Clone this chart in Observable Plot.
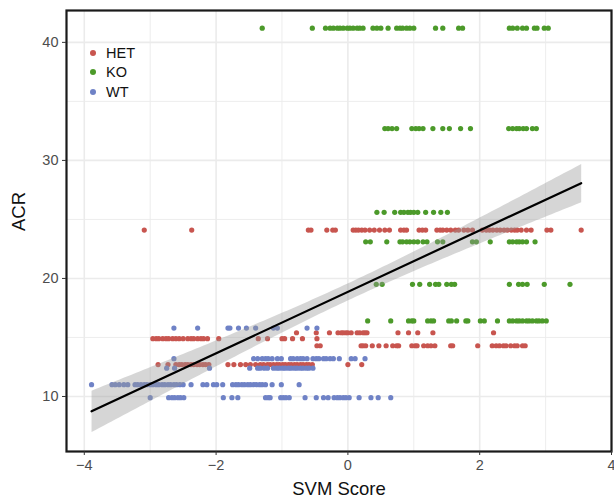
<!DOCTYPE html>
<html>
<head>
<meta charset="utf-8">
<script src="https://cdn.jsdelivr.net/npm/d3@7"></script>
<script src="https://cdn.jsdelivr.net/npm/@observablehq/plot@0.6"></script>
<style>
  html, body { margin: 0; padding: 0; background: white; }
  #wrap { position: relative; width: 614px; height: 498px; font-family: "Liberation Sans", Arial, Helvetica, sans-serif; }
  #legend { position: absolute; left: 89px; top: 43px; }
  .item { display: flex; align-items: center; height: 19.5px; font-size: 14.5px; color: #111; }
  .sw { width: 6px; height: 6px; border-radius: 50%; margin-right: 10px; margin-left: 1px; }
</style>
</head>
<body>
<div id="wrap"><div id="legend"></div></div>
<script>
// ---- categories & colours ----
const groups = ["HET", "KO", "WT"];
const groupColors = ["#C8554F", "#4C9A2A", "#6F82C6"];

// ---- KO: ACR levels and SVM scores ----
const koLevels = [41.2, 32.7, 25.6, 23.1, 19.5, 16.4];
const koScores = [
  [-1.30, -0.54, -0.34, -0.27, -0.22, -0.16, -0.12, -0.07, -0.01, 0.03, 0.08, 0.14, 0.18, 0.23, 0.38, 0.44, 0.50, 0.61, 0.74, 0.79, 0.83, 0.89, 0.94, 1.00, 1.33, 1.44, 1.68, 1.74, 2.45, 2.50, 2.57, 2.65, 2.71, 2.83, 2.87, 2.98, 3.04],
  [0.56, 0.61, 0.67, 0.74, 0.97, 1.03, 1.08, 1.14, 1.29, 1.44, 1.54, 1.71, 1.86, 2.44, 2.50, 2.56, 2.60, 2.66, 2.71, 2.80, 2.86],
  [0.44, 0.55, 0.71, 0.80, 0.85, 0.91, 0.95, 1.00, 1.06, 1.18, 1.30, 1.41, 1.51],
  [0.27, 0.34, 0.59, 0.79, 0.83, 0.89, 0.94, 1.00, 1.06, 1.14, 1.20, 1.36, 1.44, 1.89, 1.95, 2.16, 2.45, 2.50, 2.56, 2.60, 2.65, 2.71, 2.84],
  [0.43, 0.52, 0.98, 1.09, 1.24, 1.33, 1.38, 1.50, 1.57, 1.62, 2.45, 2.59, 2.65, 2.72, 2.98, 3.37],
  [0.30, 0.65, 0.92, 0.97, 1.00, 1.21, 1.26, 1.30, 1.53, 1.57, 1.65, 1.79, 1.82, 2.01, 2.07, 2.27, 2.45, 2.50, 2.56, 2.60, 2.65, 2.71, 2.75, 2.80, 2.86, 2.90, 2.95, 3.01]
];

// ---- HET ----
const hetLevels = [24.1, 15.4, 14.9, 14.3, 12.7];
const hetScores = [
  [-3.09, -2.37, -0.60, -0.56, -0.32, -0.23, -0.19, 0.08, 0.12, 0.16, 0.21, 0.26, 0.33, 0.40, 0.48, 0.56, 0.63, 0.80, 0.85, 0.89, 1.08, 1.13, 1.18, 1.35, 1.40, 1.44, 1.50, 1.56, 1.63, 1.68, 1.76, 1.82, 1.89, 2.04, 2.10, 2.15, 2.20, 2.26, 2.31, 2.37, 2.42, 2.48, 2.53, 2.57, 2.63, 2.71, 2.78, 3.02, 3.08, 3.54],
  [-0.78, -0.48, -0.28, -0.15, -0.10, -0.07, -0.03, 0.00, 0.05, 0.14, 0.18, 0.23, 0.26, 0.29, 0.76, 0.92, 1.06, 1.29, 2.21],
  [-2.96, -2.91, -2.87, -2.81, -2.76, -2.72, -2.66, -2.61, -2.56, -2.50, -2.43, -2.38, -2.34, -2.28, -2.23, -2.19, -2.13, -1.96, -1.36, -1.22, -1.00, -0.96, -0.84, -0.69, -0.47],
  [-0.47, -0.42, 0.20, 0.23, 0.27, 0.37, 0.47, 0.58, 0.68, 0.74, 0.77, 0.97, 1.02, 1.05, 1.15, 1.21, 1.26, 1.32, 1.56, 1.59, 1.97, 2.19, 2.25, 2.30, 2.36, 2.40, 2.47, 2.53, 2.57, 2.65, 2.69],
  [-2.88, -2.73, -2.61, -2.56, -2.52, -2.47, -2.43, -2.38, -2.34, -2.29, -2.25, -2.20, -2.16, -2.11, -1.82, -1.73, -1.63, -1.55, -1.48, -1.40, -1.33, -1.28, -1.22, -1.18, -1.13, -1.08, -1.04, -0.99, -0.95, -0.90, -0.86, -0.81, -0.77, -0.72, -0.68, -0.63, -0.59, -0.54, 0.00, 0.21]
];

// ---- WT ----
const wtLevels = [15.8, 13.2, 12.4, 11.0, 9.9];
const wtScores = [
  [-2.64, -2.28, -1.82, -1.79, -1.66, -1.54, -1.40, -1.13, -1.07, -0.62, -0.47],
  [-2.64, -1.43, -1.37, -1.30, -1.25, -1.21, -1.15, -1.07, -1.01, -0.87, -0.83, -0.77, -0.72, -0.68, -0.62, -0.53, -0.48, -0.44, -0.37, -0.33, -0.27, -0.22, -0.13, 0.05, 0.11, 0.26],
  [-2.75, -2.63, -2.10, -1.49, -1.37, -1.33, -1.27, -1.22, -1.13, -1.08, -1.04, -0.99, -0.95, -0.90, -0.86, -0.81, -0.77, -0.72, -0.68, -0.63, -0.59, -0.53],
  [-3.89, -3.58, -3.53, -3.47, -3.40, -3.34, -3.23, -3.19, -3.14, -3.09, -3.05, -3.00, -2.96, -2.91, -2.87, -2.82, -2.78, -2.73, -2.69, -2.64, -2.60, -2.55, -2.50, -2.38, -2.20, -2.14, -2.04, -1.99, -1.90, -1.75, -1.70, -1.66, -1.61, -1.57, -1.52, -1.48, -1.43, -1.39, -1.34, -1.30, -1.25, -1.15, -1.01, -0.74],
  [-3.00, -2.72, -2.67, -2.63, -2.58, -2.54, -2.49, -1.89, -1.76, -1.67, -1.25, -1.21, -1.18, -1.02, -0.98, -0.94, -0.89, -0.65, -0.48, -0.37, -0.30, -0.21, -0.16, -0.12, -0.07, -0.03, 0.02, 0.17, 0.35, 0.46, 0.65]
];

// ---- ticks & labels ----
const xMajor = [-4, -2, 0, 2, 4];
const xMinor = [-3, -1, 1, 3];
const yMajor = [10, 20, 30, 40];
const yMinor = [15, 25, 35];
const xTitle = "SVM Score";
const yTitle = "ACR";

// build table
const rows = [];
function addGroup(name, levels, scores) {
  levels.forEach((acr, i) => scores[i].forEach(svm => rows.push({group: name, acr, svm})));
}
addGroup("HET", hetLevels, hetScores);
addGroup("KO", koLevels, koScores);
addGroup("WT", wtLevels, wtScores);

const fmt = d => d < 0 ? "\u2212" + Math.abs(d) : String(d);
const gridStyle = {stroke: "#ebebeb", strokeOpacity: 1};

const chart = Plot.plot({
  width: 614,
  height: 498,
  marginLeft: 66,
  marginRight: 3,
  marginTop: 10,
  marginBottom: 47,
  style: {fontFamily: "'Liberation Sans', Arial, Helvetica, sans-serif", background: "white", overflow: "visible"},
  x: {domain: [-4.27, 4.0]},
  y: {domain: [5.34, 42.7]},
  color: {domain: groups, range: groupColors},
  marks: [
    Plot.gridX(xMinor, {...gridStyle, strokeWidth: 0.9}),
    Plot.gridY(yMinor, {...gridStyle, strokeWidth: 0.9}),
    Plot.gridX(xMajor, {...gridStyle, strokeWidth: 1.6}),
    Plot.gridY(yMajor, {...gridStyle, strokeWidth: 1.6}),
    Plot.dot(rows, {x: "svm", y: "acr", fill: "group", r: 2.6}),
    Plot.linearRegressionY(rows, {x: "svm", y: "acr", stroke: "black", strokeWidth: 2.2, fill: "#999999", fillOpacity: 0.4, ci: 0.95}),
    Plot.frame({stroke: "#1a1a1a", strokeWidth: 2.2}),
    Plot.axisX(xMajor, {tickSize: 4, tickPadding: 4, fontSize: 14.5, label: null, tickFormat: fmt, stroke: "#333", fill: "#4d4d4d"}),
    Plot.axisY(yMajor, {tickSize: 4, tickPadding: 4, fontSize: 14.5, label: null, tickFormat: fmt, stroke: "#333", fill: "#4d4d4d"}),
    Plot.text([xTitle], {frameAnchor: "bottom", dy: 38, lineAnchor: "middle", fontSize: 18.5, fill: "#111"}),
    Plot.text([yTitle], {frameAnchor: "left", dx: -47, rotate: -90, lineAnchor: "middle", fontSize: 18.5, fill: "#111"})
  ]
});

const wrap = document.getElementById("wrap");
wrap.insertBefore(chart, wrap.firstChild);

const legend = document.getElementById("legend");
groups.forEach((g, i) => {
  const it = document.createElement("div");
  it.className = "item";
  const sw = document.createElement("span");
  sw.className = "sw";
  sw.style.background = groupColors[i];
  const tx = document.createElement("span");
  tx.textContent = g;
  it.appendChild(sw);
  it.appendChild(tx);
  legend.appendChild(it);
});
</script>
</body>
</html>
